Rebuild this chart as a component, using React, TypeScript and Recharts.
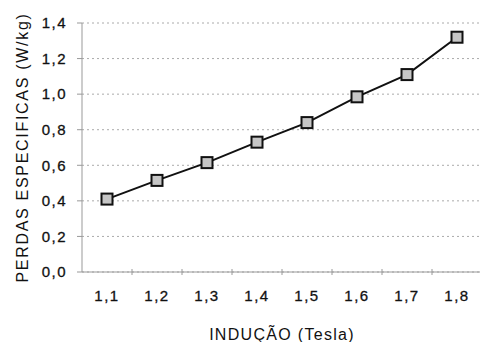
import React from "react";
import { LineChart, Line, XAxis, YAxis, CartesianGrid } from "recharts";

const inducao = [1.1, 1.2, 1.3, 1.4, 1.5, 1.6, 1.7, 1.8];
const perdas = [0.41, 0.515, 0.615, 0.73, 0.84, 0.985, 1.11, 1.32];
const xBoundaries = [1.15, 1.25, 1.35, 1.45, 1.55, 1.65, 1.75];
const yTicks = [0, 0.2, 0.4, 0.6, 0.8, 1.0, 1.2, 1.4];
const xTitle = "INDUÇÃO (Tesla)";
const yTitle = "PERDAS ESPECIFICAS (W/kg)";

const data = inducao.map((x, i) => ({ x, y: perdas[i] }));
const allXTicks = [...inducao, ...xBoundaries].sort((a, b) => a - b);

const FONT = "'Liberation Sans', Arial, sans-serif";
const fmt = (v: number) => v.toFixed(1).replace(".", ",");

const XTick = (props: any) => {
  const { x, y, payload } = props;
  const v = payload.value;
  const isBoundary = xBoundaries.some((b) => Math.abs(b - v) < 1e-6);
  if (isBoundary) {
    return <line x1={x} x2={x} y1={y - 3} y2={y + 3} stroke="#999" strokeWidth={1} />;
  }
  return (
    <text x={x} y={y + 29} textAnchor="middle" fontSize={15} fill="#111" fontFamily={FONT} letterSpacing={1.5} stroke="#111" strokeWidth={0.3}>
      {fmt(v)}
    </text>
  );
};

const SquareDot = (props: any) => {
  const { cx, cy, index } = props;
  return <rect key={index} x={cx - 5.5} y={cy - 5.5} width={11} height={11} fill="#c6c6c6" stroke="#111" strokeWidth={2} />;
};

export default function App() {
  return (
    <div style={{ position: "absolute", left: 0, top: 0, width: 480, height: 342, overflow: "hidden", background: "#fff" }}>
      <LineChart width={482} height={342} data={data} margin={{ top: 23, right: 0, bottom: 0, left: 0 }}>
        <CartesianGrid vertical={false} stroke="#aaa" strokeDasharray="2 3" />
        <XAxis
          dataKey="x"
          type="number"
          domain={[1.05, 1.85]}
          ticks={allXTicks}
          interval={0}
          tickLine={false}
          tickSize={0}
          tickMargin={0}
          tick={<XTick />}
          height={70}
          axisLine={{ stroke: "#999" }}
          label={{ value: xTitle, position: "insideBottom", offset: 2, fontSize: 16, fill: "#111", fontFamily: FONT, letterSpacing: 1.3 }}
        />
        <YAxis
          type="number"
          domain={[0, 1.4]}
          ticks={yTicks}
          interval={0}
          width={82}
          tickSize={5}
          tickMargin={10}
          tickFormatter={fmt}
          tickLine={{ stroke: "#999" }}
          axisLine={{ stroke: "#999" }}
          tick={{ fontSize: 15, fill: "#111", fontFamily: FONT, letterSpacing: 1.5, stroke: "#111", strokeWidth: 0.3 } as any}
          label={{ value: yTitle, angle: -90, position: "insideLeft", offset: 22, fontSize: 16, fill: "#111", fontFamily: FONT, letterSpacing: 1.7, style: { textAnchor: "middle" } }}
        />
        <Line
          dataKey="y"
          stroke="#111"
          strokeWidth={2}
          isAnimationActive={false}
          dot={<SquareDot />}
        />
      </LineChart>
    </div>
  );
}
